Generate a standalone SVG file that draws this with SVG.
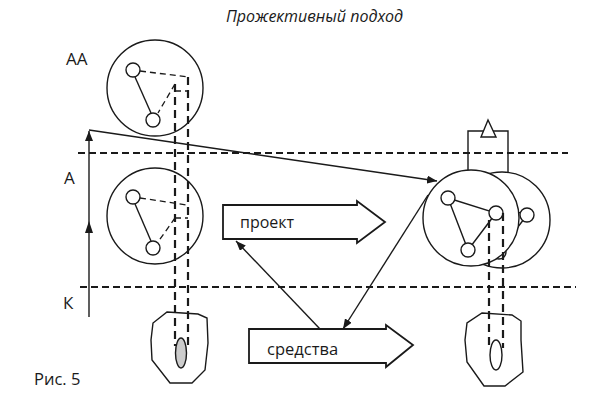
<svg xmlns="http://www.w3.org/2000/svg" width="591" height="401" viewBox="0 0 591 401">
<style>
.s{fill:none;stroke:#1a1a1a;stroke-width:1.4}
.c{fill:#fff;stroke:#1a1a1a;stroke-width:1.4}
.d{fill:none;stroke:#1a1a1a;stroke-width:1.3;stroke-dasharray:6 4}
.dh{fill:none;stroke:#1a1a1a;stroke-width:2;stroke-dasharray:7 4}
.dv{fill:none;stroke:#1a1a1a;stroke-width:2.2;stroke-dasharray:8 5}
.t{font-family:"Open Sans","Noto Sans","Liberation Sans",sans-serif;fill:#1a1a1a}
.ba{fill:#fff;stroke:#1a1a1a;stroke-width:1.8}
</style>
<defs>
<marker id="ah" viewBox="0 0 10 8" refX="10" refY="4" markerWidth="10" markerHeight="8" markerUnits="userSpaceOnUse" orient="auto">
<path d="M0,0 L10,4 L0,8 Z" fill="#1a1a1a"/>
</marker>
</defs>
<rect width="591" height="401" fill="#fff"/>
<text class="t" x="226" y="22" font-size="16" font-style="italic">Прожективный подход</text>
<text class="t" x="66" y="65" font-size="17">АА</text>
<text class="t" x="64" y="184" font-size="17">А</text>
<text class="t" x="63" y="309" font-size="17">К</text>
<text class="t" x="34" y="385" font-size="16.5">Рис. 5</text>

<g id="levels">
<line class="dh" x1="78" y1="153" x2="568" y2="153"/>
<line class="dh" x1="80" y1="287" x2="576" y2="287"/>
</g>

<g id="node-aa">
<circle class="c" cx="155" cy="88" r="48"/>
<line class="s" x1="135" y1="77" x2="151" y2="113"/>
<line class="d" x1="140" y1="71" x2="188" y2="77"/>
<line class="d" x1="175" y1="84" x2="158" y2="113"/>
<line class="d" x1="175" y1="91" x2="188" y2="91"/>
<circle class="c" cx="133" cy="70" r="7"/>
<circle class="c" cx="153" cy="120" r="7"/>
</g>

<g id="node-a">
<circle class="c" cx="155" cy="216" r="48"/>
<line class="s" x1="135" y1="204" x2="151" y2="241"/>
<line class="d" x1="140" y1="198" x2="187" y2="205"/>
<line class="d" x1="175" y1="218" x2="188" y2="218"/>
<line class="d" x1="175" y1="218" x2="158" y2="242"/>
<circle class="c" cx="133" cy="197" r="7"/>
<circle class="c" cx="153" cy="248" r="7"/>
</g>

<g id="node-k-left">
<path class="s" d="M167,312 L198,314 L207,318 L208,343 L205,370 L192,383 L170,383 L152,360 L151,340 L153,323 Z"/>
<ellipse cx="181" cy="353" rx="5.5" ry="15" fill="#ccc" stroke="#1a1a1a" stroke-width="1.4"/>
</g>

<g id="node-right">
<polyline class="s" points="468,171 468,131 508,131 508,173"/>
<polygon points="488,120 481,137 496,137" fill="#fff" stroke="#1a1a1a" stroke-width="1.4"/>
<circle class="c" cx="502" cy="220" r="48"/>
<polyline class="s" points="479,200 527,215 499,252 479,200"/>
<circle class="c" cx="527" cy="215" r="7"/>
<circle class="c" cx="499" cy="252" r="7"/>
<circle class="c" cx="471" cy="218" r="48"/>
<polyline class="s" points="448,198 496,213 468,250 448,198"/>
<circle class="c" cx="448" cy="198" r="7"/>
<circle class="c" cx="468" cy="250" r="7"/>
<circle class="c" cx="496" cy="213" r="7"/>
</g>

<g id="node-k-right">
<path class="s" d="M482,313 L512,315 L521,321 L521,340 L523,372 L505,386 L484,386 L467,362 L465,340 L467,323 Z"/>
<ellipse cx="496" cy="355" rx="6" ry="15" fill="#fff" stroke="#1a1a1a" stroke-width="1.4"/>
</g>

<g id="projections">
<line class="dv" x1="175" y1="84" x2="175" y2="346"/>
<line class="dv" x1="188" y1="77" x2="188" y2="346"/>
<line class="dv" x1="489" y1="220" x2="489" y2="348"/>
<line class="dv" x1="503" y1="213" x2="503" y2="348"/>
</g>

<g id="node-proekt">
<polygon class="ba" points="223,205 357,205 357,201 385,222 357,243 357,239 223,239"/>
<text class="t" x="240" y="228" font-size="16">проект</text>
</g>

<g id="node-sredstva">
<polygon class="ba" points="249,329 386,329 386,325 413,345 386,367 386,363 249,363"/>
<text class="t" x="267" y="355" font-size="16.5">средства</text>
</g>

<g id="connectors">
<line class="s" x1="89" y1="317" x2="89" y2="131" marker-end="url(#ah)"/>
<path d="M89,221 L85,233 L93,233 Z" fill="#1a1a1a"/>
<line class="s" x1="89" y1="130" x2="437" y2="181" marker-end="url(#ah)" stroke-width="1.6"/>
<line class="s" x1="428" y1="195" x2="343" y2="329" marker-end="url(#ah)" stroke-width="1.6"/>
<line class="s" x1="320" y1="329" x2="236" y2="241" marker-end="url(#ah)" stroke-width="1.6"/>
</g>
</svg>
